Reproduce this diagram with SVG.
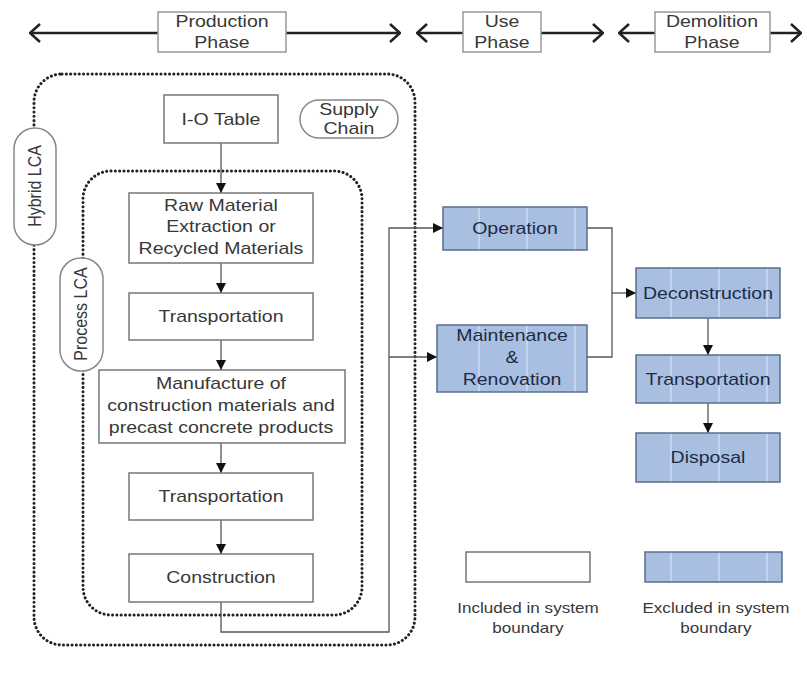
<svg xmlns="http://www.w3.org/2000/svg" width="807" height="675" viewBox="0 0 807 675">
<defs>
<marker id="tri" viewBox="0 0 10 10" refX="10" refY="5" markerWidth="10" markerHeight="10" markerUnits="userSpaceOnUse" orient="auto">
<path d="M0,0 L10,5 L0,10 Z" fill="#111"/>
</marker>
<marker id="chev" viewBox="0 0 12 20" refX="11" refY="10" markerWidth="12" markerHeight="20" markerUnits="userSpaceOnUse" orient="auto-start-reverse">
<path d="M1,1 L11,10 L1,19" fill="none" stroke="#222" stroke-width="2.6" stroke-linejoin="miter"/>
</marker>
<pattern id="stripes" patternUnits="userSpaceOnUse" x="0" y="0" width="48" height="10">
<rect width="48" height="10" fill="#a8bfe2"/>
<rect x="46" width="2" height="10" fill="#c3d4ee"/>
</pattern>
</defs>
<style>
text{font-family:"Liberation Sans",Arial,sans-serif;font-size:16px;fill:#383838;text-anchor:middle;transform-box:fill-box;transform-origin:center;transform:scaleX(1.22)}
text.r{transform:none}
.wb{fill:#fff;stroke:#777;stroke-width:1.5}
.bb{fill:url(#stripes);stroke:#5b6e8c;stroke-width:1.5}
.bt{fill:#1e2b47}
.dot{fill:none;stroke:#222;stroke-width:3;stroke-dasharray:0.1 4.2;stroke-linecap:round}
.pill{fill:#fff;stroke:#888;stroke-width:1.5}
.con{fill:none;stroke:#555;stroke-width:1.3}
.ph{fill:none;stroke:#222;stroke-width:2.6}
.leg{font-size:14px}
</style>
<rect width="807" height="675" fill="#fff"/>

<g id="phases">
<line class="ph" x1="30" y1="33" x2="400" y2="33" marker-start="url(#chev)" marker-end="url(#chev)"/>
<line class="ph" x1="417" y1="33" x2="603" y2="33" marker-start="url(#chev)" marker-end="url(#chev)"/>
<line class="ph" x1="619" y1="33" x2="801" y2="33" marker-start="url(#chev)" marker-end="url(#chev)"/>
<g id="production-phase"><rect x="158" y="12" width="128" height="40" fill="#fff" stroke="#999" stroke-width="1.5"/><text x="222" y="27">Production</text><text x="222" y="48">Phase</text></g>
<g id="use-phase"><rect x="463" y="12" width="78" height="40" fill="#fff" stroke="#999" stroke-width="1.5"/><text x="502" y="27">Use</text><text x="502" y="48">Phase</text></g>
<g id="demolition-phase"><rect x="655" y="12" width="115" height="40" fill="#fff" stroke="#999" stroke-width="1.5"/><text x="712" y="27">Demolition</text><text x="712" y="48">Phase</text></g>
</g>

<g id="hybrid-lca">
<rect class="dot" x="34" y="74" width="381" height="571" rx="28"/>
<rect class="pill" x="14" y="128" width="42" height="117" rx="21"/>
<g transform="translate(41 186) scale(1.2 1) rotate(-90)"><text class="r" x="0" y="0">Hybrid LCA</text></g>
</g>
<g id="process-lca">
<rect class="dot" x="83" y="171" width="279" height="444" rx="28"/>
<rect class="pill" x="60" y="258" width="43" height="113" rx="21"/>
<g transform="translate(87 314) scale(1.2 1) rotate(-90)"><text class="r" x="0" y="0">Process LCA</text></g>
</g>

<g id="connectors">
<line class="con" x1="221" y1="143" x2="221" y2="193" marker-end="url(#tri)"/>
<line class="con" x1="221" y1="263" x2="221" y2="293" marker-end="url(#tri)"/>
<line class="con" x1="221" y1="340" x2="221" y2="370" marker-end="url(#tri)"/>
<line class="con" x1="221" y1="443" x2="221" y2="473" marker-end="url(#tri)"/>
<line class="con" x1="221" y1="520" x2="221" y2="554" marker-end="url(#tri)"/>
<polyline class="con" points="221,602 221,632 389,632 389,228 443,228" marker-end="url(#tri)"/>
<polyline class="con" points="389,357 437,357" marker-end="url(#tri)"/>
<polyline class="con" points="587,228 612,228 612,357 587,357"/>
<polyline class="con" points="612,293 636,293" marker-end="url(#tri)"/>
<line class="con" x1="708" y1="318" x2="708" y2="355" marker-end="url(#tri)"/>
<line class="con" x1="708" y1="403" x2="708" y2="433" marker-end="url(#tri)"/>
</g>

<g id="io-table"><rect class="wb" x="164" y="95" width="114" height="48"/><text x="221" y="125">I-O Table</text></g>
<g id="supply-chain"><rect class="pill" x="300" y="100" width="98" height="38" rx="19"/><text x="349" y="115">Supply</text><text x="349" y="134">Chain</text></g>
<g id="raw-material"><rect class="wb" x="129" y="193" width="184" height="70"/><text x="221" y="211">Raw Material</text><text x="221" y="232">Extraction or</text><text x="221" y="254">Recycled Materials</text></g>
<g id="transportation-1"><rect class="wb" x="129" y="293" width="184" height="47"/><text x="221" y="322">Transportation</text></g>
<g id="manufacture"><rect class="wb" x="99" y="370" width="246" height="73"/><text x="221" y="389">Manufacture of</text><text x="221" y="411">construction materials and</text><text x="221" y="433">precast concrete products</text></g>
<g id="transportation-2"><rect class="wb" x="129" y="473" width="184" height="47"/><text x="221" y="502">Transportation</text></g>
<g id="construction"><rect class="wb" x="129" y="554" width="184" height="48"/><text x="221" y="583">Construction</text></g>

<g id="operation"><rect class="bb" x="443" y="207" width="144" height="43"/><text class="bt" x="515" y="234">Operation</text></g>
<g id="maintenance"><rect class="bb" x="437" y="325" width="150" height="67"/><text class="bt" x="512" y="341">Maintenance</text><text class="bt" x="512" y="363">&amp;</text><text class="bt" x="512" y="385">Renovation</text></g>
<g id="deconstruction"><rect class="bb" x="636" y="268" width="144" height="50"/><text class="bt" x="708" y="299">Deconstruction</text></g>
<g id="transportation-3"><rect class="bb" x="636" y="355" width="144" height="48"/><text class="bt" x="708" y="385">Transportation</text></g>
<g id="disposal"><rect class="bb" x="636" y="433" width="144" height="49"/><text class="bt" x="708" y="463">Disposal</text></g>

<g id="legend-included"><rect class="wb" x="466" y="552" width="124" height="30"/><text class="leg" x="528" y="613">Included in system</text><text class="leg" x="528" y="633">boundary</text></g>
<g id="legend-excluded"><rect class="bb" x="645" y="552" width="137" height="30"/><text class="leg" x="716" y="613">Excluded in system</text><text class="leg" x="716" y="633">boundary</text></g>
</svg>
